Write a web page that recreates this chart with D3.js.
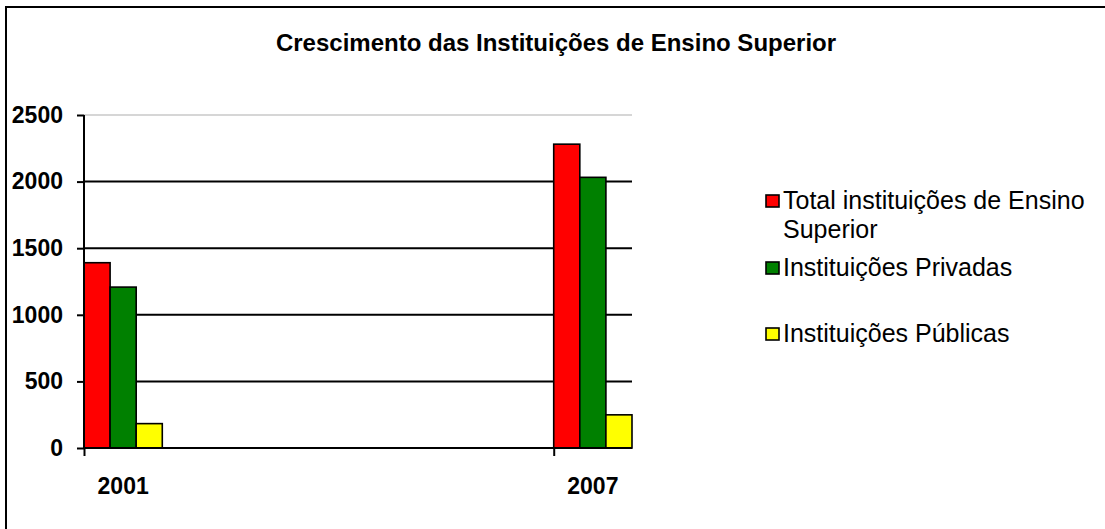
<!DOCTYPE html>
<html>
<head>
<meta charset="utf-8">
<script src="https://cdn.jsdelivr.net/npm/d3@7"></script>
<style>
  html, body { margin: 0; padding: 0; background: #fff; }
  svg text { font-family: Arial, "Liberation Sans", sans-serif; }
</style>
</head>
<body>
<svg id="chart" width="1105" height="529"></svg>
<script>
const title = "Crescimento das Instituições de Ensino Superior";
const years = [2001, 2007];
const seriesNames = [["Total instituições de Ensino", "Superior"], ["Instituições Privadas"], ["Instituições Públicas"]];
const seriesColors = ["#ff0000", "#008000", "#ffff00"];
const totalValues = [1391, 2281];
const privateValues = [1208, 2032];
const publicValues = [183, 249];
const yTicks = [0, 500, 1000, 1500, 2000, 2500];

const series = [totalValues, privateValues, publicValues];
const svg = d3.select("#chart");

// outer frame
svg.append("rect").attr("x", 6).attr("y", 7).attr("width", 1110).attr("height", 540)
  .attr("fill", "none").attr("stroke", "#000").attr("stroke-width", 2);

svg.append("text").attr("x", 556).attr("y", 51).attr("text-anchor", "middle")
  .attr("font-weight", "bold").attr("font-size", 24).text(title);

const x = d3.scaleLinear().domain([2001, 2008]).range([84, 632]);
const y = d3.scaleLinear().domain([0, 2500]).range([448, 115]);
const unit = x(2002) - x(2001);
const bw = unit / 3;

// gridlines
svg.append("g").selectAll("line").data(yTicks.filter(t => t > 0)).join("line")
  .attr("x1", x(2001)).attr("x2", x(2008))
  .attr("y1", d => y(d)).attr("y2", d => y(d))
  .attr("stroke", d => d === 2500 ? "#c8c8c8" : "#000")
  .attr("stroke-width", d => d === 2500 ? 1.5 : 2);

// bars
series.forEach((vals, i) => {
  svg.append("g").selectAll("rect").data(years.map((yr, j) => ({yr, v: vals[j]}))).join("rect")
    .attr("x", d => x(d.yr) + i * bw)
    .attr("y", d => y(d.v))
    .attr("width", bw)
    .attr("height", d => y(0) - y(d.v))
    .attr("fill", seriesColors[i])
    .attr("stroke", "#000").attr("stroke-width", 1.6);
});

// y axis
const yAxis = d3.axisLeft(y).tickValues(yTicks).tickSize(7).tickPadding(14).tickFormat(d3.format("d"));
const gy = svg.append("g").attr("transform", `translate(${x(2001)},0)`).call(yAxis);
gy.select(".domain").attr("stroke-width", 2).attr("d", `M-0,${y(2500)}V${y(0)}`);
gy.selectAll(".tick line").attr("stroke-width", 2);
gy.selectAll(".tick text").attr("font-size", 23).attr("font-weight", "bold")
  .attr("font-family", "Arial, 'Liberation Sans', sans-serif").attr("fill", "#000");

// x axis
const xAxis = d3.axisBottom(x).tickValues(years).tickSize(8).tickFormat("");
const gx = svg.append("g").attr("transform", `translate(0,${y(0)})`).call(xAxis);
gx.select(".domain").attr("stroke-width", 2).attr("d", `M${x(2001)},0H${x(2008)}`);
gx.selectAll(".tick line").attr("stroke-width", 2);
svg.append("g").selectAll("text").data(years).join("text")
  .attr("x", d => x(d) + unit / 2).attr("y", 494)
  .attr("text-anchor", "middle").attr("font-size", 23).attr("font-weight", "bold")
  .text(d => d);

// legend
const legY = [201, 268, 334];
const leg = svg.append("g");
seriesNames.forEach((lines, i) => {
  leg.append("rect").attr("x", 766).attr("y", legY[i] - 6).attr("width", 13).attr("height", 12)
    .attr("fill", seriesColors[i]).attr("stroke", "#000").attr("stroke-width", 1.6);
  lines.forEach((ln, k) => {
    leg.append("text").attr("x", 783).attr("y", legY[i] + 8 + k * 29)
      .attr("font-size", 25).text(ln);
  });
});
</script>
</body>
</html>
